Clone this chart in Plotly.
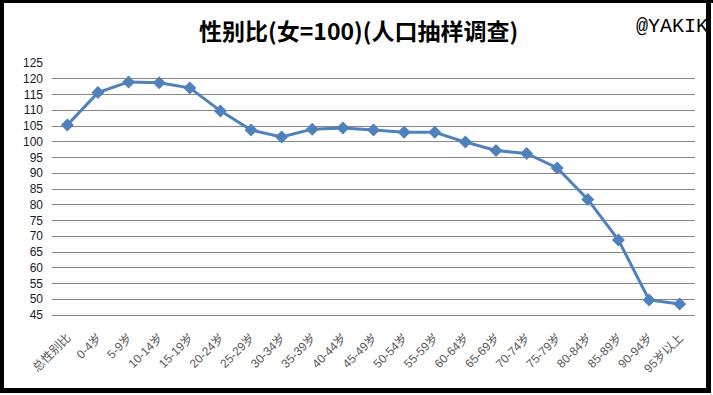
import plotly.graph_objects as go

categories = ["总性别比", "0-4岁", "5-9岁", "10-14岁", "15-19岁", "20-24岁", "25-29岁",
              "30-34岁", "35-39岁", "40-44岁", "45-49岁", "50-54岁", "55-59岁", "60-64岁",
              "65-69岁", "70-74岁", "75-79岁", "80-84岁", "85-89岁", "90-94岁", "95岁以上"]
values = [105.3, 115.6, 119.0, 118.7, 117.1, 109.8, 103.7, 101.5, 104.0, 104.4, 103.7,
          103.0, 103.0, 99.9, 97.2, 96.3, 91.7, 81.7, 68.8, 49.8, 48.5]
y_ticks = list(range(45, 126, 5))

W, H = 713, 395
L, R, T, B = 52, 18, 63, 80
pw, ph = W - L - R, H - T - B

def px(x):
    return (x - L) / pw

def py(y):
    return (H - B - y) / ph

fig = go.Figure()
fig.add_trace(go.Scatter(
    x=categories, y=values, mode="lines+markers",
    line=dict(color="#4F81BD", width=3),
    marker=dict(symbol="diamond", size=10, color="#4F81BD"),
    showlegend=False,
))

font_family = "Liberation Sans, Noto Sans CJK SC, sans-serif"

shapes = []
for (x0, y0, x1, y1) in [(0, 0, 713, 3), (0, 0, 4, 393), (706, 0, 711, 393), (0, 388, 711, 393)]:
    shapes.append(dict(type="rect", xref="paper", yref="paper",
                       x0=px(x0), x1=px(x1), y0=py(y1), y1=py(y0),
                       fillcolor="black", line=dict(width=0), layer="above"))

fig.update_layout(
    width=W, height=H,
    margin=dict(l=L, r=R, t=T, b=B),
    paper_bgcolor="white", plot_bgcolor="white",
    title=dict(text="<b>性别比(女=100)(人口抽样调查)</b>",
               x=0.503, xref="container", xanchor="center",
               y=1 - 32 / H, yref="container", yanchor="middle",
               font=dict(family="Noto Sans CJK SC, sans-serif", size=23, color="black")),
    xaxis=dict(type="category", tickangle=-45, showgrid=False,
               showline=True, linecolor="#868686", linewidth=1,
               ticks="", ticklabelstandoff=10,
               tickfont=dict(family=font_family, size=12, color="#595959"),
               range=[-0.5, len(categories) - 0.5]),
    yaxis=dict(range=[45, 125], tickvals=y_ticks, showgrid=True,
               gridcolor="#868686", gridwidth=1, zeroline=False, showline=False,
               ticks="", ticklabelstandoff=8,
               tickfont=dict(family=font_family, size=12, color="#1a1a2e")),
    shapes=shapes,
    annotations=[dict(text="@YAKIK", xref="paper", yref="paper",
                      x=px(710), y=py(26), xanchor="right", yanchor="middle",
                      showarrow=False,
                      font=dict(family="Liberation Mono, monospace", size=20, color="black"))],
)

fig.write_html("out.html", config={"displayModeBar": False},
               post_script="document.body.style.margin='0';document.body.style.padding='0';"
                           "document.documentElement.style.overflow='hidden';")
